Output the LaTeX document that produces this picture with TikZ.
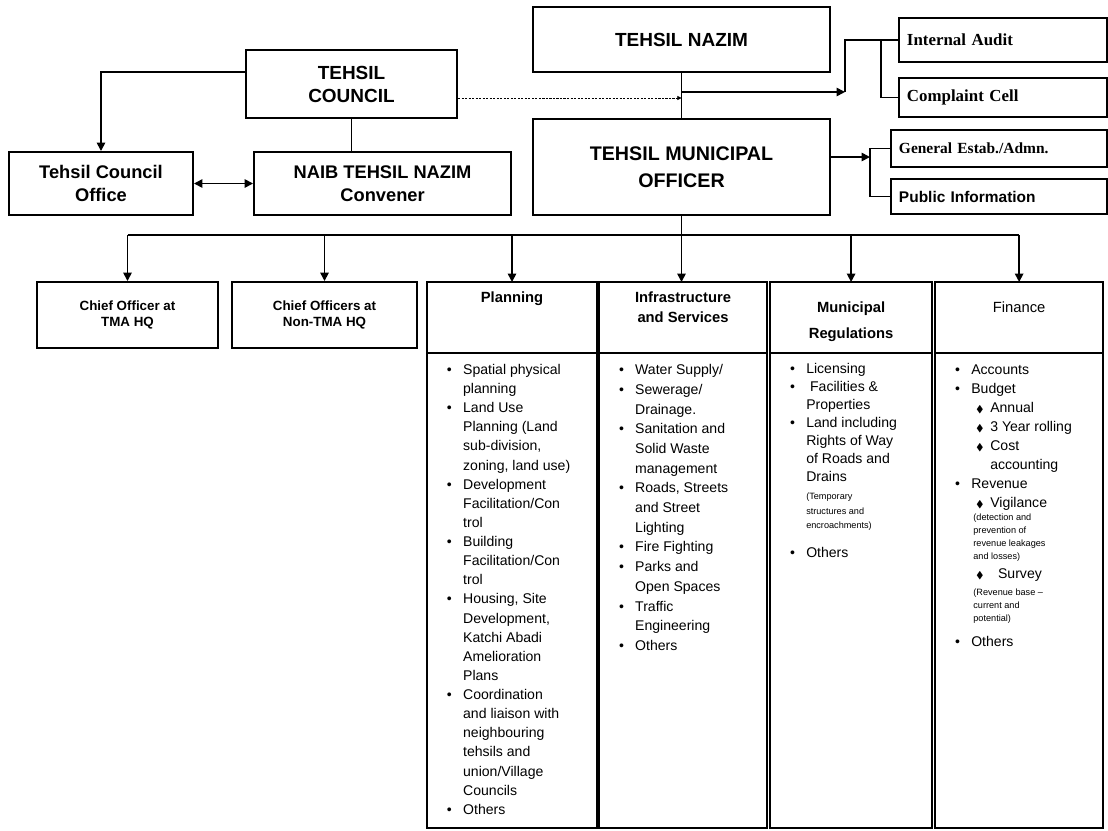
\documentclass[tikz,border=0pt]{standalone}
\usepackage{amssymb}
\usepackage{fontspec}
\setmainfont{Liberation Sans}
\newfontfamily\serifbox{Liberation Serif}
\usetikzlibrary{arrows.meta,positioning}

\newcommand{\headtxt}[2][0pt]{\parbox[t][1.3cm][t]{3.6cm}{\centering\vspace*{#1}#2}}
\newcommand{\listtxt}[2]{\parbox[t][11.475cm][t]{#1}{#2}}
\newcommand{\finsub}[1]{\hspace{3.5pt}\makebox[10pt][l]{\scriptsize$\blacklozenge$}#1}
\newcommand{\tinytxt}[1]{{\fontsize{6.5}{7.5}\selectfont #1}}

\begin{document}
\begin{tikzpicture}[x=0.025cm,y=-0.025cm,
      box_main/.style={
         draw=black,
         line width=1.4pt,
         align=center,
         font=\bfseries\fontsize{13.5}{16.4}\selectfont},
      box_side/.style={
         draw=black,
         line width=1.4pt,
         align=left,
         inner xsep=0.2cm,
         text width=4.8cm,
         font=\serifbox\bfseries\fontsize{12}{14}\selectfont},
      box_head/.style={
         draw=black,
         line width=1.4pt,
         inner sep=0pt,
         outer sep=0pt,
         minimum height=1.775cm,
         font=\bfseries\fontsize{10.5}{12.6}\selectfont},
      box_list/.style={
         draw=black,
         line width=1.4pt,
         inner xsep=0.5cm,
         inner ysep=0.2cm,
         outer sep=0pt,
         font=\fontsize{10}{13.5}\selectfont},
      line_black/.style={
         line width=1.2pt},
      arrow_black/.style={
         line width=1.2pt,
         -{Triangle[length=6pt,width=6pt]}},
      line_dot/.style={
         line width=0.6pt,
         dash pattern=on 1.5pt off 1pt,
         -{Triangle[length=3pt,width=3pt]}},
]
      \path[use as bounding box,fill=white] (0,0) rectangle (1108,830);

      %top
      \node[box_main,minimum width=7.425cm,minimum height=1.625cm] (nazim) at (681.5,39.5) {TEHSIL NAZIM};
      \node[box_main,minimum width=7.425cm,minimum height=2.4cm,
            font=\bfseries\fontsize{14}{19.2}\selectfont,below=1.125cm of nazim] (tmo) {TEHSIL MUNICIPAL\\OFFICER};
      \node[box_main,minimum width=5.275cm,minimum height=1.7cm] (council) at (351.5,84) {TEHSIL\\COUNCIL};
      \node[box_main,minimum width=4.6cm,minimum height=1.575cm,
            font=\bfseries\fontsize{13}{16.4}\selectfont] (tco) at (101,183.5) {Tehsil Council\\Office};
      \node[box_main,minimum width=6.425cm,minimum height=1.575cm,
            font=\bfseries\fontsize{13}{16.4}\selectfont,right=1.475cm of tco] (naib) {NAIB TEHSIL NAZIM\\Convener};

      %side units
      \node[box_side,minimum height=1.1cm] (audit) at (1003,40) {Internal Audit};
      \node[box_side,minimum height=0.975cm,below=0.35cm of audit] (complaint) {Complaint Cell};
      \node[box_side,text width=5cm,minimum height=0.925cm,
            font=\serifbox\bfseries\fontsize{11}{13}\selectfont] (general) at (999,148.5) {General Estab./Admn.};
      \node[box_side,text width=5cm,minimum height=0.875cm,
            font=\bfseries\fontsize{11}{13}\selectfont,below=0.25cm of general] (public) {Public Information};

      %second row
      \node[box_main,minimum width=4.525cm,minimum height=1.65cm,
            font=\bfseries\fontsize{9.5}{11.5}\selectfont] (chief1) at (127.5,315) {Chief Officer at\\TMA HQ};
      \node[box_main,minimum width=4.625cm,minimum height=1.65cm,
            font=\bfseries\fontsize{9.5}{11.5}\selectfont,right=0.3cm of chief1] (chief2) {Chief Officers at\\Non-TMA HQ};

      \node[box_head,minimum width=4.25cm] (planning) at (512,317.5) {\headtxt{Planning}};
      \node[box_head,minimum width=4.2cm,right=0.05cm of planning] (infra) {\headtxt{Infrastructure\\[1.5pt]and Services}};
      \node[box_head,minimum width=4.05cm,right=0.075cm of infra] (municipal) {\headtxt[7pt]{Municipal\\[6pt]Regulations}};
      \node[box_head,minimum width=4.2cm,right=0.075cm of municipal] (finance) {\headtxt[7pt]{\mdseries Finance}};

      %lists
      \node[box_list,minimum width=4.25cm,below=0pt of planning] (planlist) {\listtxt{3.25cm}{%
        \fontsize{10}{13.6}\selectfont
        \begin{tabular}[t]{@{}l@{\hspace{8pt}}l@{}}
          \textbullet & Spatial physical\\
                      & planning\\
          \textbullet & Land Use\\
                      & Planning (Land\\
                      & sub-division,\\
                      & zoning, land use)\\
          \textbullet & Development\\
                      & Facilitation/Con\\
                      & trol\\
          \textbullet & Building\\
                      & Facilitation/Con\\
                      & trol\\
          \textbullet & Housing, Site\\
                      & Development,\\
                      & Katchi Abadi\\
                      & Amelioration\\
                      & Plans\\
          \textbullet & Coordination\\
                      & and liaison with\\
                      & neighbouring\\
                      & tehsils and\\
                      & union/Village\\
                      & Councils\\
          \textbullet & Others
        \end{tabular}}};
      \node[box_list,minimum width=4.2cm,below=0pt of infra] (infralist) {\listtxt{3.2cm}{%
        \fontsize{10}{14}\selectfont
        \begin{tabular}[t]{@{}l@{\hspace{8pt}}l@{}}
          \textbullet & Water Supply/\\
          \textbullet & Sewerage/\\
                      & Drainage.\\
          \textbullet & Sanitation and\\
                      & Solid Waste\\
                      & management\\
          \textbullet & Roads, Streets\\
                      & and Street\\
                      & Lighting\\
          \textbullet & Fire Fighting\\
          \textbullet & Parks and\\
                      & Open Spaces\\
          \textbullet & Traffic\\
                      & Engineering\\
          \textbullet & Others
        \end{tabular}}};
      \node[box_list,minimum width=4.05cm,below=0pt of municipal] (municipallist) {\listtxt{3.05cm}{%
        \fontsize{10}{12.8}\selectfont
        \begin{tabular}[t]{@{}l@{\hspace{8pt}}l@{}}
          \textbullet & Licensing\\
          \textbullet & \ Facilities \&\\
                      & Properties\\
          \textbullet & Land including\\
                      & Rights of Way\\
                      & of Roads and\\
                      & Drains\\
                      & \tinytxt{(Temporary}\\[-2.5pt]
                      & \tinytxt{structures and}\\[-2.5pt]
                      & \tinytxt{encroachments)}\\[7.8pt]
          \textbullet & Others
        \end{tabular}}};
      \node[box_list,minimum width=4.2cm,below=0pt of finance] (financelist) {\listtxt{3.2cm}{%
        \fontsize{10}{13.5}\selectfont
        \begin{tabular}[t]{@{}l@{\hspace{8pt}}l@{}}
          \textbullet & Accounts\\
          \textbullet & Budget\\
                      & \finsub{Annual}\\
                      & \finsub{3 Year rolling}\\
                      & \finsub{Cost}\\
                      & \hspace{13.5pt}accounting\\
          \textbullet & Revenue\\
                      & \finsub{Vigilance}\\[-4.2pt]
                      & \hspace{1.5pt}\tinytxt{(detection and}\\[-4.2pt]
                      & \hspace{1.5pt}\tinytxt{prevention of}\\[-4.2pt]
                      & \hspace{1.5pt}\tinytxt{revenue leakages}\\[-4.2pt]
                      & \hspace{1.5pt}\tinytxt{and losses)}\\
                      & \finsub{\ \ Survey}\\[-1.5pt]
                      & \hspace{1.5pt}\tinytxt{(Revenue base --}\\[-4.2pt]
                      & \hspace{1.5pt}\tinytxt{current and}\\[-4.2pt]
                      & \hspace{1.5pt}\tinytxt{potential)}\\[4.3pt]
          \textbullet & Others
        \end{tabular}}};

      %council links
      \draw[arrow_black] ([yshift=0.3cm]council.west) -| (tco.north);
      \draw[line_black] (council.south) -- (council.south |- naib.north);
      \draw[line_black,{Triangle[length=6pt,width=6pt]}-{Triangle[length=6pt,width=6pt]}] (tco.east) -- (tco.east -| naib.west);
      \coordinate (cd) at ([yshift=-0.35cm]council.east);
      \draw[line_dot] (cd) -- (cd -| nazim.south);

      %nazim links
      \draw[line_black] (nazim.south) -- (tmo.north);
      \path (nazim.south) ++(0,19) coordinate (nb);
      \draw[line_black] (audit.west) -- ++(-17,0) coordinate (ab) |- (complaint.west);
      \path (ab) ++(-36,0) coordinate (ak);
      \draw[arrow_black] (nb) -- (nb -| ak);
      \draw[line_black] (nb -| ak) |- (ab);

      %officer links
      \draw[line_black] (general.west) -- ++(-20,0) coordinate (gb) |- (public.west);
      \path (tmo.east) ++(0,-10) coordinate (te);
      \draw[arrow_black] (te) -- (te -| gb);
      \draw[arrow_black] (tmo.south) -- (tmo.south |- infra.north);
      \path (tmo.south) ++(0,19) coordinate (bus);
      \draw[line_black] (bus -| chief1.north) -- (bus -| finance.north);
      \foreach \n in {chief1,chief2,planning,municipal,finance}
        \draw[arrow_black] (bus -| \n.north) -- (\n.north);

\end{tikzpicture}
\end{document}
